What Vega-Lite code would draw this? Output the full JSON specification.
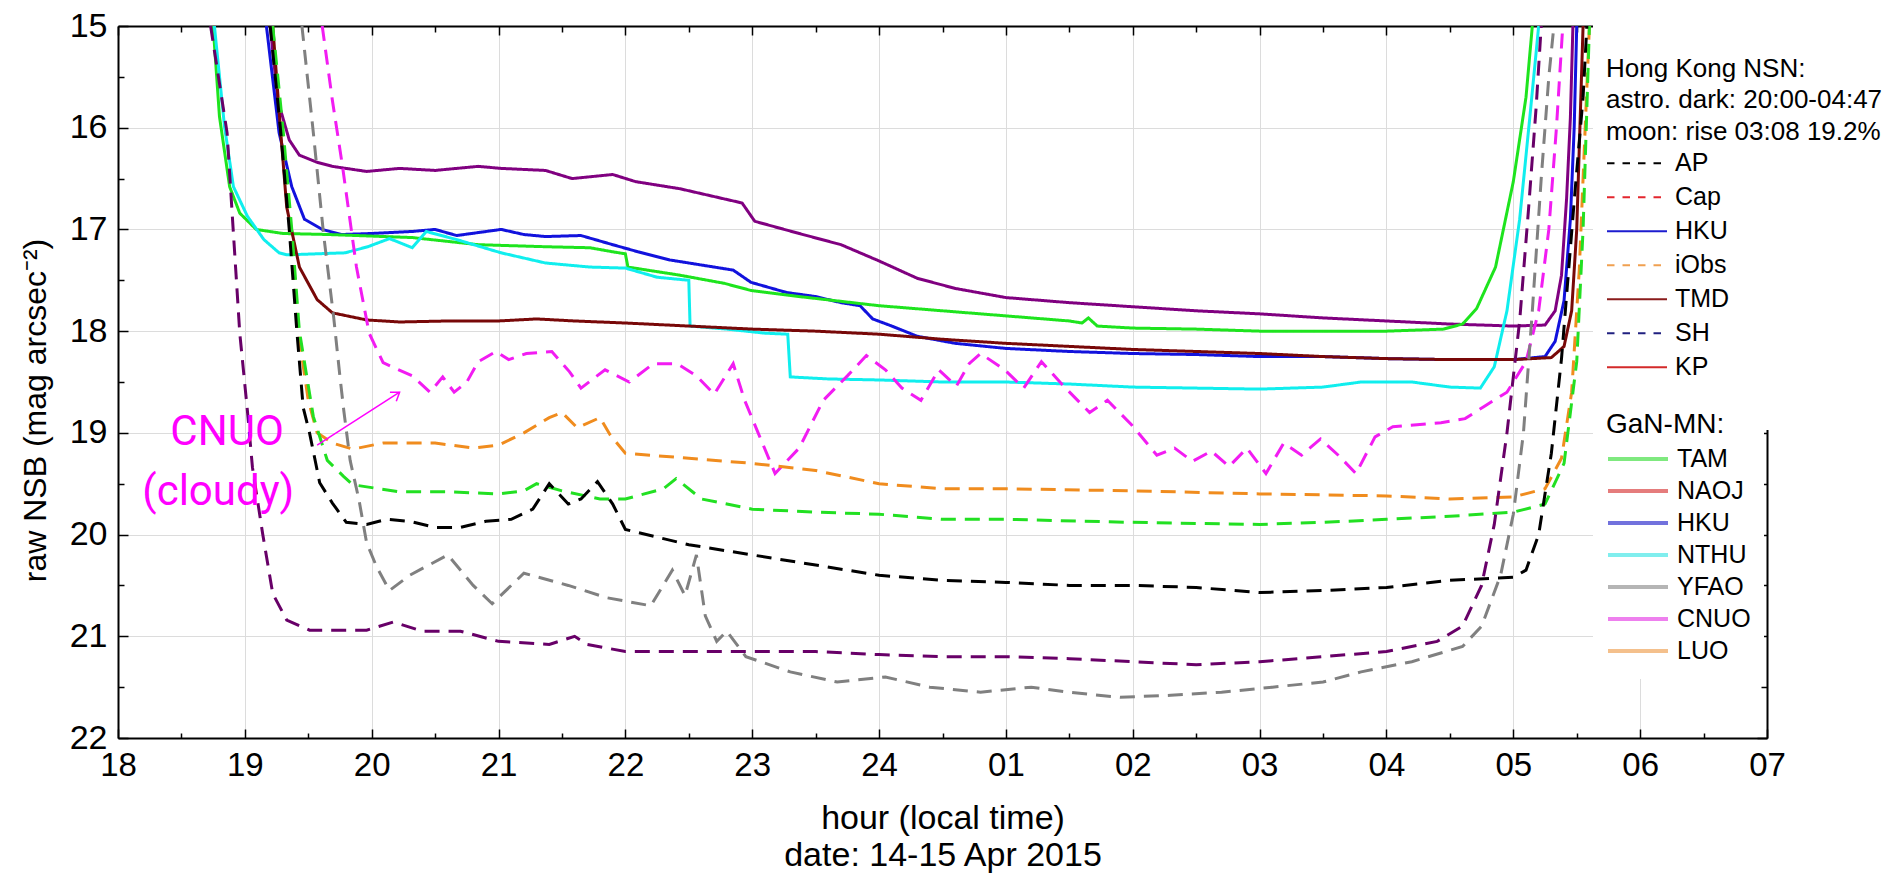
{
  "$schema": "https://vega.github.io/schema/vega-lite/v6.json",
  "width": 1649,
  "height": 712,
  "autosize": {"type": "none"},
  "padding": {"left": 118, "top": 26, "right": 134, "bottom": 144},
  "background": "white",
  "config": {
    "view": {"stroke": null},
    "axis": {
      "domainColor": "black", "domainWidth": 2, "tickColor": "black", "tickWidth": 1.5,
      "gridColor": "#dcdcdc", "gridWidth": 1, "labelFont": "Liberation Sans", "titleFont": "Liberation Sans",
      "labelColor": "black", "titleColor": "black", "titleFontWeight": "normal",
      "labelOverlap": false, "labelFlush": false, "labelBound": false
    },
    "legend": {
      "orient": "none", "symbolType": "stroke", "symbolSize": 3600, "padding": 13, "fillColor": "white",
      "labelFont": "Liberation Sans", "labelColor": "black", "labelOffset": 7, "labelLimit": 400,
      "titleFont": "Liberation Sans", "titleFontWeight": "normal", "titleColor": "black", "titleLimit": 600, "titleAnchor": "start",
      "rowPadding": 2
    }
  },
  "datasets": {
    "lines": [
      {"series":"purple solid","hour":19.20,"nsb":15.0},{"series":"purple solid","hour":19.26,"nsb":15.73},{"series":"purple solid","hour":19.35,"nsb":16.12},{"series":"purple solid","hour":19.43,"nsb":16.27},{"series":"purple solid","hour":19.57,"nsb":16.34},{"series":"purple solid","hour":19.69,"nsb":16.38},{"series":"purple solid","hour":19.96,"nsb":16.43},{"series":"purple solid","hour":20.22,"nsb":16.40},{"series":"purple solid","hour":20.5,"nsb":16.42},{"series":"purple solid","hour":20.84,"nsb":16.38},{"series":"purple solid","hour":21.02,"nsb":16.40},{"series":"purple solid","hour":21.37,"nsb":16.42},{"series":"purple solid","hour":21.58,"nsb":16.5},{"series":"purple solid","hour":21.9,"nsb":16.46},{"series":"purple solid","hour":22.08,"nsb":16.53},{"series":"purple solid","hour":22.43,"nsb":16.6},{"series":"purple solid","hour":22.78,"nsb":16.7},{"series":"purple solid","hour":22.92,"nsb":16.74},{"series":"purple solid","hour":23.02,"nsb":16.92},{"series":"purple solid","hour":23.37,"nsb":17.04},{"series":"purple solid","hour":23.7,"nsb":17.15},{"series":"purple solid","hour":24.0,"nsb":17.31},{"series":"purple solid","hour":24.3,"nsb":17.48},{"series":"purple solid","hour":24.6,"nsb":17.58},{"series":"purple solid","hour":25.0,"nsb":17.67},{"series":"purple solid","hour":25.5,"nsb":17.72},{"series":"purple solid","hour":26.0,"nsb":17.76},{"series":"purple solid","hour":26.5,"nsb":17.8},{"series":"purple solid","hour":27.0,"nsb":17.83},{"series":"purple solid","hour":27.5,"nsb":17.87},{"series":"purple solid","hour":28.0,"nsb":17.9},{"series":"purple solid","hour":28.5,"nsb":17.93},{"series":"purple solid","hour":29.0,"nsb":17.95},{"series":"purple solid","hour":29.25,"nsb":17.94},{"series":"purple solid","hour":29.33,"nsb":17.8},{"series":"purple solid","hour":29.38,"nsb":17.45},{"series":"purple solid","hour":29.42,"nsb":16.7},{"series":"purple solid","hour":29.45,"nsb":15.9},{"series":"purple solid","hour":29.47,"nsb":15.0},

      {"series":"HKU line","hour":19.17,"nsb":15.0},{"series":"HKU line","hour":19.27,"nsb":16.05},{"series":"HKU line","hour":19.37,"nsb":16.58},{"series":"HKU line","hour":19.47,"nsb":16.9},{"series":"HKU line","hour":19.61,"nsb":17.0},{"series":"HKU line","hour":19.76,"nsb":17.05},{"series":"HKU line","hour":20.0,"nsb":17.04},{"series":"HKU line","hour":20.32,"nsb":17.02},{"series":"HKU line","hour":20.5,"nsb":17.0},{"series":"HKU line","hour":20.67,"nsb":17.06},{"series":"HKU line","hour":21.02,"nsb":17.0},{"series":"HKU line","hour":21.2,"nsb":17.05},{"series":"HKU line","hour":21.37,"nsb":17.07},{"series":"HKU line","hour":21.65,"nsb":17.06},{"series":"HKU line","hour":21.9,"nsb":17.15},{"series":"HKU line","hour":22.1,"nsb":17.22},{"series":"HKU line","hour":22.35,"nsb":17.3},{"series":"HKU line","hour":22.6,"nsb":17.35},{"series":"HKU line","hour":22.85,"nsb":17.4},{"series":"HKU line","hour":22.99,"nsb":17.52},{"series":"HKU line","hour":23.27,"nsb":17.62},{"series":"HKU line","hour":23.5,"nsb":17.66},{"series":"HKU line","hour":23.7,"nsb":17.72},{"series":"HKU line","hour":23.85,"nsb":17.75},{"series":"HKU line","hour":23.95,"nsb":17.88},{"series":"HKU line","hour":24.1,"nsb":17.95},{"series":"HKU line","hour":24.3,"nsb":18.05},{"series":"HKU line","hour":24.6,"nsb":18.12},{"series":"HKU line","hour":25.0,"nsb":18.17},{"series":"HKU line","hour":25.5,"nsb":18.2},{"series":"HKU line","hour":26.0,"nsb":18.22},{"series":"HKU line","hour":26.5,"nsb":18.23},{"series":"HKU line","hour":27.0,"nsb":18.25},{"series":"HKU line","hour":27.5,"nsb":18.25},{"series":"HKU line","hour":28.0,"nsb":18.27},{"series":"HKU line","hour":28.5,"nsb":18.28},{"series":"HKU line","hour":29.0,"nsb":18.28},{"series":"HKU line","hour":29.25,"nsb":18.25},{"series":"HKU line","hour":29.33,"nsb":18.1},{"series":"HKU line","hour":29.4,"nsb":17.7},{"series":"HKU line","hour":29.45,"nsb":16.9},{"series":"HKU line","hour":29.48,"nsb":16.0},{"series":"HKU line","hour":29.5,"nsb":15.0},

      {"series":"TAM line","hour":18.75,"nsb":15.0},{"series":"TAM line","hour":18.8,"nsb":15.89},{"series":"TAM line","hour":18.88,"nsb":16.58},{"series":"TAM line","hour":18.96,"nsb":16.84},{"series":"TAM line","hour":19.09,"nsb":17.0},{"series":"TAM line","hour":19.3,"nsb":17.04},{"series":"TAM line","hour":19.66,"nsb":17.05},{"series":"TAM line","hour":20.32,"nsb":17.08},{"series":"TAM line","hour":20.84,"nsb":17.15},{"series":"TAM line","hour":21.37,"nsb":17.17},{"series":"TAM line","hour":21.72,"nsb":17.18},{"series":"TAM line","hour":21.9,"nsb":17.22},{"series":"TAM line","hour":22.0,"nsb":17.24},{"series":"TAM line","hour":22.02,"nsb":17.37},{"series":"TAM line","hour":22.43,"nsb":17.45},{"series":"TAM line","hour":22.78,"nsb":17.53},{"series":"TAM line","hour":22.99,"nsb":17.6},{"series":"TAM line","hour":23.37,"nsb":17.66},{"series":"TAM line","hour":24.0,"nsb":17.75},{"series":"TAM line","hour":24.5,"nsb":17.8},{"series":"TAM line","hour":25.0,"nsb":17.85},{"series":"TAM line","hour":25.5,"nsb":17.9},{"series":"TAM line","hour":25.6,"nsb":17.92},{"series":"TAM line","hour":25.65,"nsb":17.87},{"series":"TAM line","hour":25.72,"nsb":17.95},{"series":"TAM line","hour":26.0,"nsb":17.97},{"series":"TAM line","hour":26.5,"nsb":17.98},{"series":"TAM line","hour":27.0,"nsb":18.0},{"series":"TAM line","hour":27.5,"nsb":18.0},{"series":"TAM line","hour":28.0,"nsb":18.0},{"series":"TAM line","hour":28.45,"nsb":17.98},{"series":"TAM line","hour":28.6,"nsb":17.93},{"series":"TAM line","hour":28.71,"nsb":17.78},{"series":"TAM line","hour":28.86,"nsb":17.37},{"series":"TAM line","hour":29.0,"nsb":16.53},{"series":"TAM line","hour":29.1,"nsb":15.7},{"series":"TAM line","hour":29.15,"nsb":15.0},

      {"series":"NTHU line","hour":18.76,"nsb":15.0},{"series":"NTHU line","hour":18.84,"nsb":15.99},{"series":"NTHU line","hour":18.91,"nsb":16.58},{"series":"NTHU line","hour":19.02,"nsb":16.87},{"series":"NTHU line","hour":19.15,"nsb":17.1},{"series":"NTHU line","hour":19.27,"nsb":17.23},{"series":"NTHU line","hour":19.33,"nsb":17.25},{"series":"NTHU line","hour":19.79,"nsb":17.23},{"series":"NTHU line","hour":19.97,"nsb":17.17},{"series":"NTHU line","hour":20.14,"nsb":17.09},{"series":"NTHU line","hour":20.32,"nsb":17.18},{"series":"NTHU line","hour":20.43,"nsb":17.02},{"series":"NTHU line","hour":20.67,"nsb":17.1},{"series":"NTHU line","hour":21.02,"nsb":17.23},{"series":"NTHU line","hour":21.37,"nsb":17.33},{"series":"NTHU line","hour":21.72,"nsb":17.37},{"series":"NTHU line","hour":22.0,"nsb":17.38},{"series":"NTHU line","hour":22.25,"nsb":17.47},{"series":"NTHU line","hour":22.5,"nsb":17.5},{"series":"NTHU line","hour":22.51,"nsb":17.95},{"series":"NTHU line","hour":22.8,"nsb":17.98},{"series":"NTHU line","hour":23.1,"nsb":18.02},{"series":"NTHU line","hour":23.28,"nsb":18.03},{"series":"NTHU line","hour":23.3,"nsb":18.45},{"series":"NTHU line","hour":23.6,"nsb":18.47},{"series":"NTHU line","hour":24.0,"nsb":18.48},{"series":"NTHU line","hour":24.5,"nsb":18.5},{"series":"NTHU line","hour":25.0,"nsb":18.5},{"series":"NTHU line","hour":25.5,"nsb":18.52},{"series":"NTHU line","hour":26.0,"nsb":18.55},{"series":"NTHU line","hour":26.5,"nsb":18.56},{"series":"NTHU line","hour":27.0,"nsb":18.57},{"series":"NTHU line","hour":27.5,"nsb":18.55},{"series":"NTHU line","hour":27.8,"nsb":18.5},{"series":"NTHU line","hour":28.2,"nsb":18.5},{"series":"NTHU line","hour":28.5,"nsb":18.55},{"series":"NTHU line","hour":28.74,"nsb":18.56},{"series":"NTHU line","hour":28.85,"nsb":18.35},{"series":"NTHU line","hour":28.95,"nsb":17.8},{"series":"NTHU line","hour":29.05,"nsb":16.9},{"series":"NTHU line","hour":29.13,"nsb":15.9},{"series":"NTHU line","hour":29.2,"nsb":15.0},

      {"series":"TMD line","hour":19.22,"nsb":15.0},{"series":"TMD line","hour":19.28,"nsb":16.0},{"series":"TMD line","hour":19.33,"nsb":16.78},{"series":"TMD line","hour":19.43,"nsb":17.37},{"series":"TMD line","hour":19.57,"nsb":17.69},{"series":"TMD line","hour":19.69,"nsb":17.82},{"series":"TMD line","hour":19.96,"nsb":17.89},{"series":"TMD line","hour":20.22,"nsb":17.91},{"series":"TMD line","hour":20.6,"nsb":17.9},{"series":"TMD line","hour":21.0,"nsb":17.9},{"series":"TMD line","hour":21.3,"nsb":17.88},{"series":"TMD line","hour":21.6,"nsb":17.9},{"series":"TMD line","hour":22.0,"nsb":17.92},{"series":"TMD line","hour":22.5,"nsb":17.95},{"series":"TMD line","hour":23.0,"nsb":17.98},{"series":"TMD line","hour":23.5,"nsb":18.0},{"series":"TMD line","hour":24.0,"nsb":18.03},{"series":"TMD line","hour":24.5,"nsb":18.08},{"series":"TMD line","hour":25.0,"nsb":18.12},{"series":"TMD line","hour":25.5,"nsb":18.15},{"series":"TMD line","hour":26.0,"nsb":18.18},{"series":"TMD line","hour":26.5,"nsb":18.2},{"series":"TMD line","hour":27.0,"nsb":18.22},{"series":"TMD line","hour":27.5,"nsb":18.25},{"series":"TMD line","hour":28.0,"nsb":18.27},{"series":"TMD line","hour":28.5,"nsb":18.28},{"series":"TMD line","hour":29.0,"nsb":18.28},{"series":"TMD line","hour":29.3,"nsb":18.26},{"series":"TMD line","hour":29.4,"nsb":18.15},{"series":"TMD line","hour":29.46,"nsb":17.8},{"series":"TMD line","hour":29.5,"nsb":17.0},{"series":"TMD line","hour":29.53,"nsb":15.8},{"series":"TMD line","hour":29.55,"nsb":15.0},

      {"series":"CNUO line","hour":19.61,"nsb":15.0},{"series":"CNUO line","hour":19.69,"nsb":15.73},{"series":"CNUO line","hour":19.77,"nsb":16.38},{"series":"CNUO line","hour":19.88,"nsb":17.37},{"series":"CNUO line","hour":19.98,"nsb":18.02},{"series":"CNUO line","hour":20.09,"nsb":18.31},{"series":"CNUO line","hour":20.32,"nsb":18.44},{"series":"CNUO line","hour":20.46,"nsb":18.6},{"series":"CNUO line","hour":20.56,"nsb":18.45},{"series":"CNUO line","hour":20.65,"nsb":18.6},{"series":"CNUO line","hour":20.75,"nsb":18.5},{"series":"CNUO line","hour":20.84,"nsb":18.3},{"series":"CNUO line","hour":20.98,"nsb":18.2},{"series":"CNUO line","hour":21.08,"nsb":18.28},{"series":"CNUO line","hour":21.22,"nsb":18.22},{"series":"CNUO line","hour":21.42,"nsb":18.2},{"series":"CNUO line","hour":21.56,"nsb":18.4},{"series":"CNUO line","hour":21.65,"nsb":18.56},{"series":"CNUO line","hour":21.84,"nsb":18.38},{"series":"CNUO line","hour":22.03,"nsb":18.5},{"series":"CNUO line","hour":22.22,"nsb":18.32},{"series":"CNUO line","hour":22.41,"nsb":18.32},{"series":"CNUO line","hour":22.56,"nsb":18.44},{"series":"CNUO line","hour":22.7,"nsb":18.62},{"series":"CNUO line","hour":22.85,"nsb":18.32},{"series":"CNUO line","hour":22.94,"nsb":18.68},{"series":"CNUO line","hour":23.04,"nsb":18.98},{"series":"CNUO line","hour":23.18,"nsb":19.4},{"series":"CNUO line","hour":23.37,"nsb":19.15},{"series":"CNUO line","hour":23.56,"nsb":18.68},{"series":"CNUO line","hour":23.75,"nsb":18.44},{"series":"CNUO line","hour":23.9,"nsb":18.24},{"series":"CNUO line","hour":24.05,"nsb":18.38},{"series":"CNUO line","hour":24.18,"nsb":18.56},{"series":"CNUO line","hour":24.33,"nsb":18.68},{"series":"CNUO line","hour":24.47,"nsb":18.38},{"series":"CNUO line","hour":24.61,"nsb":18.54},{"series":"CNUO line","hour":24.71,"nsb":18.32},{"series":"CNUO line","hour":24.8,"nsb":18.22},{"series":"CNUO line","hour":24.99,"nsb":18.38},{"series":"CNUO line","hour":25.14,"nsb":18.56},{"series":"CNUO line","hour":25.28,"nsb":18.3},{"series":"CNUO line","hour":25.47,"nsb":18.56},{"series":"CNUO line","hour":25.66,"nsb":18.8},{"series":"CNUO line","hour":25.8,"nsb":18.68},{"series":"CNUO line","hour":25.99,"nsb":18.92},{"series":"CNUO line","hour":26.19,"nsb":19.22},{"series":"CNUO line","hour":26.33,"nsb":19.15},{"series":"CNUO line","hour":26.47,"nsb":19.28},{"series":"CNUO line","hour":26.62,"nsb":19.18},{"series":"CNUO line","hour":26.76,"nsb":19.33},{"series":"CNUO line","hour":26.9,"nsb":19.15},{"series":"CNUO line","hour":27.05,"nsb":19.4},{"series":"CNUO line","hour":27.19,"nsb":19.1},{"series":"CNUO line","hour":27.33,"nsb":19.22},{"series":"CNUO line","hour":27.48,"nsb":19.06},{"series":"CNUO line","hour":27.62,"nsb":19.22},{"series":"CNUO line","hour":27.76,"nsb":19.4},{"series":"CNUO line","hour":27.91,"nsb":19.04},{"series":"CNUO line","hour":28.05,"nsb":18.94},{"series":"CNUO line","hour":28.24,"nsb":18.92},{"series":"CNUO line","hour":28.43,"nsb":18.9},{"series":"CNUO line","hour":28.62,"nsb":18.86},{"series":"CNUO line","hour":28.77,"nsb":18.74},{"series":"CNUO line","hour":28.95,"nsb":18.6},{"series":"CNUO line","hour":29.1,"nsb":18.3},{"series":"CNUO line","hour":29.2,"nsb":17.8},{"series":"CNUO line","hour":29.28,"nsb":17.0},{"series":"CNUO line","hour":29.34,"nsb":16.0},{"series":"CNUO line","hour":29.39,"nsb":15.0},

      {"series":"iObs line","hour":19.21,"nsb":15.0},{"series":"iObs line","hour":19.29,"nsb":16.0},{"series":"iObs line","hour":19.36,"nsb":17.0},{"series":"iObs line","hour":19.42,"nsb":18.0},{"series":"iObs line","hour":19.5,"nsb":18.68},{"series":"iObs line","hour":19.57,"nsb":19.0},{"series":"iObs line","hour":19.69,"nsb":19.1},{"series":"iObs line","hour":19.85,"nsb":19.16},{"series":"iObs line","hour":20.09,"nsb":19.1},{"series":"iObs line","hour":20.5,"nsb":19.1},{"series":"iObs line","hour":20.8,"nsb":19.15},{"series":"iObs line","hour":21.0,"nsb":19.12},{"series":"iObs line","hour":21.2,"nsb":19.0},{"series":"iObs line","hour":21.4,"nsb":18.85},{"series":"iObs line","hour":21.5,"nsb":18.8},{"series":"iObs line","hour":21.62,"nsb":18.95},{"series":"iObs line","hour":21.8,"nsb":18.85},{"series":"iObs line","hour":21.88,"nsb":19.02},{"series":"iObs line","hour":22.0,"nsb":19.2},{"series":"iObs line","hour":22.5,"nsb":19.25},{"series":"iObs line","hour":23.0,"nsb":19.3},{"series":"iObs line","hour":23.5,"nsb":19.37},{"series":"iObs line","hour":24.0,"nsb":19.5},{"series":"iObs line","hour":24.5,"nsb":19.55},{"series":"iObs line","hour":25.0,"nsb":19.55},{"series":"iObs line","hour":26.0,"nsb":19.57},{"series":"iObs line","hour":27.0,"nsb":19.6},{"series":"iObs line","hour":28.0,"nsb":19.62},{"series":"iObs line","hour":28.5,"nsb":19.65},{"series":"iObs line","hour":29.0,"nsb":19.63},{"series":"iObs line","hour":29.25,"nsb":19.55},{"series":"iObs line","hour":29.38,"nsb":19.25},{"series":"iObs line","hour":29.46,"nsb":18.6},{"series":"iObs line","hour":29.52,"nsb":17.4},{"series":"iObs line","hour":29.56,"nsb":16.2},{"series":"iObs line","hour":29.6,"nsb":15.0},

      {"series":"green dashed","hour":19.22,"nsb":15.0},{"series":"green dashed","hour":19.3,"nsb":16.0},{"series":"green dashed","hour":19.37,"nsb":17.0},{"series":"green dashed","hour":19.43,"nsb":18.0},{"series":"green dashed","hour":19.54,"nsb":18.84},{"series":"green dashed","hour":19.65,"nsb":19.27},{"series":"green dashed","hour":19.78,"nsb":19.43},{"series":"green dashed","hour":19.85,"nsb":19.51},{"series":"green dashed","hour":20.22,"nsb":19.58},{"series":"green dashed","hour":20.6,"nsb":19.58},{"series":"green dashed","hour":21.0,"nsb":19.6},{"series":"green dashed","hour":21.2,"nsb":19.57},{"series":"green dashed","hour":21.3,"nsb":19.5},{"series":"green dashed","hour":21.5,"nsb":19.57},{"series":"green dashed","hour":21.8,"nsb":19.65},{"series":"green dashed","hour":22.0,"nsb":19.65},{"series":"green dashed","hour":22.3,"nsb":19.55},{"series":"green dashed","hour":22.4,"nsb":19.45},{"series":"green dashed","hour":22.6,"nsb":19.65},{"series":"green dashed","hour":23.0,"nsb":19.75},{"series":"green dashed","hour":23.5,"nsb":19.78},{"series":"green dashed","hour":24.0,"nsb":19.8},{"series":"green dashed","hour":24.5,"nsb":19.85},{"series":"green dashed","hour":25.0,"nsb":19.85},{"series":"green dashed","hour":26.0,"nsb":19.88},{"series":"green dashed","hour":27.0,"nsb":19.9},{"series":"green dashed","hour":27.5,"nsb":19.88},{"series":"green dashed","hour":28.0,"nsb":19.85},{"series":"green dashed","hour":28.5,"nsb":19.82},{"series":"green dashed","hour":29.0,"nsb":19.78},{"series":"green dashed","hour":29.25,"nsb":19.7},{"series":"green dashed","hour":29.4,"nsb":19.3},{"series":"green dashed","hour":29.5,"nsb":18.3},{"series":"green dashed","hour":29.55,"nsb":17.0},{"series":"green dashed","hour":29.58,"nsb":15.8},{"series":"green dashed","hour":29.6,"nsb":15.0},

      {"series":"AP line","hour":19.2,"nsb":15.0},{"series":"AP line","hour":19.28,"nsb":16.0},{"series":"AP line","hour":19.35,"nsb":17.0},{"series":"AP line","hour":19.41,"nsb":18.0},{"series":"AP line","hour":19.46,"nsb":18.75},{"series":"AP line","hour":19.51,"nsb":19.0},{"series":"AP line","hour":19.59,"nsb":19.49},{"series":"AP line","hour":19.69,"nsb":19.69},{"series":"AP line","hour":19.8,"nsb":19.88},{"series":"AP line","hour":19.96,"nsb":19.9},{"series":"AP line","hour":20.12,"nsb":19.85},{"series":"AP line","hour":20.3,"nsb":19.87},{"series":"AP line","hour":20.5,"nsb":19.93},{"series":"AP line","hour":20.7,"nsb":19.93},{"series":"AP line","hour":20.9,"nsb":19.87},{"series":"AP line","hour":21.1,"nsb":19.85},{"series":"AP line","hour":21.27,"nsb":19.75},{"series":"AP line","hour":21.4,"nsb":19.5},{"series":"AP line","hour":21.55,"nsb":19.7},{"series":"AP line","hour":21.65,"nsb":19.65},{"series":"AP line","hour":21.78,"nsb":19.48},{"series":"AP line","hour":21.9,"nsb":19.7},{"series":"AP line","hour":22.0,"nsb":19.95},{"series":"AP line","hour":22.5,"nsb":20.1},{"series":"AP line","hour":23.0,"nsb":20.2},{"series":"AP line","hour":23.5,"nsb":20.3},{"series":"AP line","hour":24.0,"nsb":20.4},{"series":"AP line","hour":24.5,"nsb":20.45},{"series":"AP line","hour":25.0,"nsb":20.47},{"series":"AP line","hour":25.5,"nsb":20.5},{"series":"AP line","hour":26.0,"nsb":20.5},{"series":"AP line","hour":26.5,"nsb":20.52},{"series":"AP line","hour":27.0,"nsb":20.57},{"series":"AP line","hour":27.5,"nsb":20.55},{"series":"AP line","hour":28.0,"nsb":20.52},{"series":"AP line","hour":28.5,"nsb":20.45},{"series":"AP line","hour":29.0,"nsb":20.42},{"series":"AP line","hour":29.1,"nsb":20.35},{"series":"AP line","hour":29.2,"nsb":20.0},{"series":"AP line","hour":29.3,"nsb":19.2},{"series":"AP line","hour":29.38,"nsb":18.27},{"series":"AP line","hour":29.48,"nsb":16.72},{"series":"AP line","hour":29.55,"nsb":15.7},{"series":"AP line","hour":29.58,"nsb":15.0},

      {"series":"YFAO line","hour":19.45,"nsb":15.0},{"series":"YFAO line","hour":19.54,"nsb":16.05},{"series":"YFAO line","hour":19.62,"nsb":17.04},{"series":"YFAO line","hour":19.7,"nsb":17.86},{"series":"YFAO line","hour":19.75,"nsb":18.45},{"series":"YFAO line","hour":19.78,"nsb":18.78},{"series":"YFAO line","hour":19.83,"nsb":19.27},{"series":"YFAO line","hour":19.9,"nsb":19.66},{"series":"YFAO line","hour":19.96,"nsb":20.08},{"series":"YFAO line","hour":20.04,"nsb":20.32},{"series":"YFAO line","hour":20.14,"nsb":20.55},{"series":"YFAO line","hour":20.3,"nsb":20.4},{"series":"YFAO line","hour":20.45,"nsb":20.3},{"series":"YFAO line","hour":20.6,"nsb":20.2},{"series":"YFAO line","hour":20.8,"nsb":20.5},{"series":"YFAO line","hour":20.95,"nsb":20.68},{"series":"YFAO line","hour":21.2,"nsb":20.38},{"series":"YFAO line","hour":21.55,"nsb":20.5},{"series":"YFAO line","hour":21.85,"nsb":20.62},{"series":"YFAO line","hour":22.2,"nsb":20.7},{"series":"YFAO line","hour":22.37,"nsb":20.35},{"series":"YFAO line","hour":22.47,"nsb":20.6},{"series":"YFAO line","hour":22.56,"nsb":20.2},{"series":"YFAO line","hour":22.63,"nsb":20.8},{"series":"YFAO line","hour":22.72,"nsb":21.05},{"series":"YFAO line","hour":22.8,"nsb":20.95},{"series":"YFAO line","hour":22.95,"nsb":21.2},{"series":"YFAO line","hour":23.3,"nsb":21.35},{"series":"YFAO line","hour":23.67,"nsb":21.45},{"series":"YFAO line","hour":24.05,"nsb":21.4},{"series":"YFAO line","hour":24.4,"nsb":21.5},{"series":"YFAO line","hour":24.8,"nsb":21.55},{"series":"YFAO line","hour":25.2,"nsb":21.5},{"series":"YFAO line","hour":25.5,"nsb":21.55},{"series":"YFAO line","hour":25.9,"nsb":21.6},{"series":"YFAO line","hour":26.3,"nsb":21.58},{"series":"YFAO line","hour":26.7,"nsb":21.55},{"series":"YFAO line","hour":27.1,"nsb":21.5},{"series":"YFAO line","hour":27.5,"nsb":21.45},{"series":"YFAO line","hour":27.8,"nsb":21.35},{"series":"YFAO line","hour":28.2,"nsb":21.25},{"series":"YFAO line","hour":28.6,"nsb":21.1},{"series":"YFAO line","hour":28.75,"nsb":20.9},{"series":"YFAO line","hour":28.9,"nsb":20.4},{"series":"YFAO line","hour":29.0,"nsb":19.8},{"series":"YFAO line","hour":29.08,"nsb":19.0},{"series":"YFAO line","hour":29.15,"nsb":17.8},{"series":"YFAO line","hour":29.22,"nsb":16.5},{"series":"YFAO line","hour":29.28,"nsb":15.5},{"series":"YFAO line","hour":29.32,"nsb":15.0},

      {"series":"purple dashed","hour":18.73,"nsb":15.0},{"series":"purple dashed","hour":18.86,"nsb":16.05},{"series":"purple dashed","hour":18.91,"nsb":17.04},{"series":"purple dashed","hour":18.96,"nsb":18.02},{"series":"purple dashed","hour":19.02,"nsb":18.78},{"series":"purple dashed","hour":19.06,"nsb":19.34},{"series":"purple dashed","hour":19.14,"nsb":19.99},{"series":"purple dashed","hour":19.22,"nsb":20.58},{"series":"purple dashed","hour":19.33,"nsb":20.84},{"series":"purple dashed","hour":19.51,"nsb":20.94},{"series":"purple dashed","hour":19.69,"nsb":20.94},{"series":"purple dashed","hour":19.96,"nsb":20.94},{"series":"purple dashed","hour":20.17,"nsb":20.86},{"series":"purple dashed","hour":20.4,"nsb":20.95},{"series":"purple dashed","hour":20.7,"nsb":20.95},{"series":"purple dashed","hour":21.0,"nsb":21.05},{"series":"purple dashed","hour":21.4,"nsb":21.08},{"series":"purple dashed","hour":21.6,"nsb":21.0},{"series":"purple dashed","hour":21.7,"nsb":21.08},{"series":"purple dashed","hour":22.0,"nsb":21.15},{"series":"purple dashed","hour":22.5,"nsb":21.15},{"series":"purple dashed","hour":23.0,"nsb":21.15},{"series":"purple dashed","hour":23.5,"nsb":21.15},{"series":"purple dashed","hour":24.0,"nsb":21.18},{"series":"purple dashed","hour":24.5,"nsb":21.2},{"series":"purple dashed","hour":25.0,"nsb":21.2},{"series":"purple dashed","hour":25.5,"nsb":21.22},{"series":"purple dashed","hour":26.0,"nsb":21.25},{"series":"purple dashed","hour":26.5,"nsb":21.28},{"series":"purple dashed","hour":27.0,"nsb":21.25},{"series":"purple dashed","hour":27.5,"nsb":21.2},{"series":"purple dashed","hour":28.0,"nsb":21.15},{"series":"purple dashed","hour":28.4,"nsb":21.05},{"series":"purple dashed","hour":28.6,"nsb":20.9},{"series":"purple dashed","hour":28.75,"nsb":20.5},{"series":"purple dashed","hour":28.85,"nsb":19.9},{"series":"purple dashed","hour":28.95,"nsb":19.0},{"series":"purple dashed","hour":29.05,"nsb":17.9},{"series":"purple dashed","hour":29.12,"nsb":16.8},{"series":"purple dashed","hour":29.18,"nsb":15.8},{"series":"purple dashed","hour":29.22,"nsb":15.0}
    ],
    "notes": [
      {"hour": 18.86, "nsb": 18.99, "label": "CNUO"},
      {"hour": 18.79, "nsb": 19.58, "label": "(cloudy)"}
    ],
    "arrow": [
      {"hour": 19.57, "nsb": 19.12, "hour2": 20.22, "nsb2": 18.6}
    ]
  },
  "layer": [
    {
      "data": {"name": "lines"},
      "mark": {"type": "line", "strokeWidth": 3, "clip": true, "strokeCap": "butt"},
      "encoding": {
        "x": {
          "field": "hour", "type": "quantitative",
          "scale": {"domain": [18, 31], "nice": false, "zero": false},
          "axis": {
            "orient": "bottom",
            "values": [18,18.5,19,19.5,20,20.5,21,21.5,22,22.5,23,23.5,24,24.5,25,25.5,26,26.5,27,27.5,28,28.5,29,29.5,30,30.5,31],
            "labelExpr": "datum.value % 1 ? '' : (datum.value <= 24 ? '' + datum.value : '0' + (datum.value - 24))",
            "tickSize": {"condition": {"test": "datum.value % 1 === 0", "value": -9}, "value": -5},
            "gridOpacity": {"condition": {"test": "datum.value % 1 === 0", "value": 1}, "value": 0},
            "grid": true,
            "labelFontSize": 33,
            "labelPadding": 20.6,
            "title": ["hour (local time)", "date: 14-15 Apr 2015"],
            "titleFontSize": 34,
            "titleLineHeight": 37,
            "titleBaseline": "top",
            "titleAnchor": "middle",
            "titleY": 63
          }
        },
        "y": {
          "field": "nsb", "type": "quantitative",
          "scale": {"domain": [15, 22], "reverse": true, "nice": false, "zero": false},
          "axis": {
            "orient": "left",
            "values": [15,15.5,16,16.5,17,17.5,18,18.5,19,19.5,20,20.5,21,21.5,22],
            "labelExpr": "datum.value % 1 ? '' : '' + datum.value",
            "tickSize": {"condition": {"test": "datum.value % 1 === 0", "value": -10}, "value": -6},
            "gridOpacity": {"condition": {"test": "datum.value % 1 === 0", "value": 1}, "value": 0},
            "grid": true,
            "labelFontSize": 34,
            "labelPadding": 21,
            "title": "raw NSB (mag arcsec⁻²)",
            "titleFontSize": 32,
            "titleAngle": 270,
            "titleAlign": "center",
            "titleBaseline": "middle",
            "titleX": -83,
            "titleY": 384
          }
        },
        "color": {
          "field": "series", "type": "nominal",
          "scale": {
            "domain": ["AP","Cap","HKU","iObs","TMD","SH","KP","_gap","purple solid","HKU line","TAM line","NTHU line","TMD line","CNUO line","iObs line","green dashed","AP line","YFAO line","purple dashed"],
            "range": ["#000000","#e3262e","#1c1ccf","#f0a050","#8a1c1c","#202080","#d32a2a","#ffffff","#800080","#1212dd","#1ee41e","#10eeee","#780808","#f21cf2","#f08c1e","#22e022","#000000","#808080","#680068"]
          },
          "legend": {
            "legendX": 1475,
            "legendY": -15,
            "values": ["AP","Cap","HKU","iObs","TMD","SH","KP","_gap"],
            "labelExpr": "datum.label === '_gap' ? '' : datum.label",
            "title": [" ", "Hong Kong NSN:", "astro. dark: 20:00-04:47", "moon: rise 03:08 19.2%"],
            "titleFontSize": 26, "titleLineHeight": 31.5, "titlePadding": 3,
            "labelFontSize": 25,
            "symbolStrokeWidth": 2,
            "clipHeight": 31.3,
            "zindex": 2
          }
        },
        "strokeDash": {
          "field": "series", "type": "nominal",
          "scale": {
            "domain": ["AP","Cap","HKU","iObs","TMD","SH","KP","_gap","purple solid","HKU line","TAM line","NTHU line","TMD line","CNUO line","iObs line","green dashed","AP line","YFAO line","purple dashed"],
            "range": [[7.5,8],[7.5,8],[1,0],[7.5,8],[1,0],[7.5,8],[1,0],[1,0],[1,0],[1,0],[1,0],[1,0],[1,0],[15,9],[15,9],[15,9],[15,9],[15,9],[15,9]]
          },
          "legend": {
            "legendX": 1475,
            "legendY": -15,
            "values": ["AP","Cap","HKU","iObs","TMD","SH","KP","_gap"],
            "labelExpr": "datum.label === '_gap' ? '' : datum.label",
            "title": [" ", "Hong Kong NSN:", "astro. dark: 20:00-04:47", "moon: rise 03:08 19.2%"],
            "titleFontSize": 26, "titleLineHeight": 31.5, "titlePadding": 3,
            "labelFontSize": 25,
            "symbolStrokeWidth": 2,
            "clipHeight": 31.3,
            "zindex": 2
          }
        }
      }
    },
    {
      "data": {"name": "notes"},
      "mark": {"type": "text", "color": "#ff00ff", "font": "Roboto", "fontSize": 42, "align": "center", "baseline": "middle"},
      "encoding": {
        "x": {
          "field": "hour", "type": "quantitative",
          "scale": {"domain": [18, 31], "nice": false, "zero": false},
          "axis": {
            "orient": "top",
            "values": [18,18.5,19,19.5,20,20.5,21,21.5,22,22.5,23,23.5,24,24.5,25,25.5,26,26.5,27,27.5,28,28.5,29,29.5,30,30.5,31],
            "labels": false, "grid": false, "title": null,
            "tickSize": {"condition": {"test": "datum.value % 1 === 0", "value": -9}, "value": -6}
          }
        },
        "y": {
          "field": "nsb", "type": "quantitative",
          "scale": {"domain": [15, 22], "reverse": true, "nice": false, "zero": false},
          "axis": {
            "orient": "right",
            "values": [15,15.5,16,16.5,17,17.5,18,18.5,19,19.5,20,20.5,21,21.5,22],
            "labels": false, "grid": false, "title": null,
            "tickSize": {"condition": {"test": "datum.value % 1 === 0", "value": -10}, "value": -6}
          }
        },
        "text": {"field": "label", "type": "nominal"}
      }
    },
    {
      "data": {"name": "arrow"},
      "mark": {"type": "rule", "color": "#ff00ff", "strokeWidth": 1.5},
      "encoding": {
        "x": {"field": "hour", "type": "quantitative", "scale": {"domain": [18, 31], "nice": false, "zero": false}, "axis": null},
        "y": {"field": "nsb", "type": "quantitative", "scale": {"domain": [15, 22], "reverse": true, "nice": false, "zero": false}, "axis": null},
        "x2": {"field": "hour2"},
        "y2": {"field": "nsb2"}
      }
    },
    {
      "data": {"name": "arrow"},
      "mark": {"type": "point", "shape": "M -1 -0.7 L 0 0 L -1 0.7", "filled": false, "color": "#ff00ff", "strokeWidth": 1.5, "size": 250, "angle": -35, "opacity": 1},
      "encoding": {
        "x": {"field": "hour2", "type": "quantitative", "scale": {"domain": [18, 31], "nice": false, "zero": false}, "axis": null},
        "y": {"field": "nsb2", "type": "quantitative", "scale": {"domain": [15, 22], "reverse": true, "nice": false, "zero": false}, "axis": null}
      }
    },
    {
      "data": {"name": "lines"},
      "transform": [{"filter": "false"}],
      "mark": {"type": "line", "strokeWidth": 4},
      "encoding": {
        "x": {"field": "hour", "type": "quantitative", "scale": {"domain": [18, 31], "nice": false, "zero": false}, "axis": null},
        "y": {"field": "nsb", "type": "quantitative", "scale": {"domain": [15, 22], "reverse": true, "nice": false, "zero": false}, "axis": null},
        "color": {
          "field": "series", "type": "nominal",
          "scale": {
            "domain": ["TAM","NAOJ","GaN HKU","NTHU","YFAO","CNUO","LUO"],
            "range": ["#7fe97f","#e57c7c","#7272dd","#80eeee","#b5b5b5","#ee80ee","#f4c08c"]
          },
          "legend": {
            "legendX": 1475,
            "legendY": 372,
            "labelExpr": "datum.label === 'GaN HKU' ? 'HKU' : datum.label",
            "title": "\u00a0\u00a0GaN-MN:\u00a0\u00a0\u00a0\u00a0\u00a0\u00a0\u00a0\u00a0\u00a0\u00a0",
            "titleFontSize": 28, "titlePadding": 5,
            "labelFontSize": 25,
            "symbolStrokeWidth": 4,
            "clipHeight": 30,
            "zindex": 3
          }
        }
      }
    }
  ],
  "resolve": {
    "scale": {"color": "independent", "strokeDash": "independent"},
    "axis": {"x": "independent", "y": "independent"}
  }
}
